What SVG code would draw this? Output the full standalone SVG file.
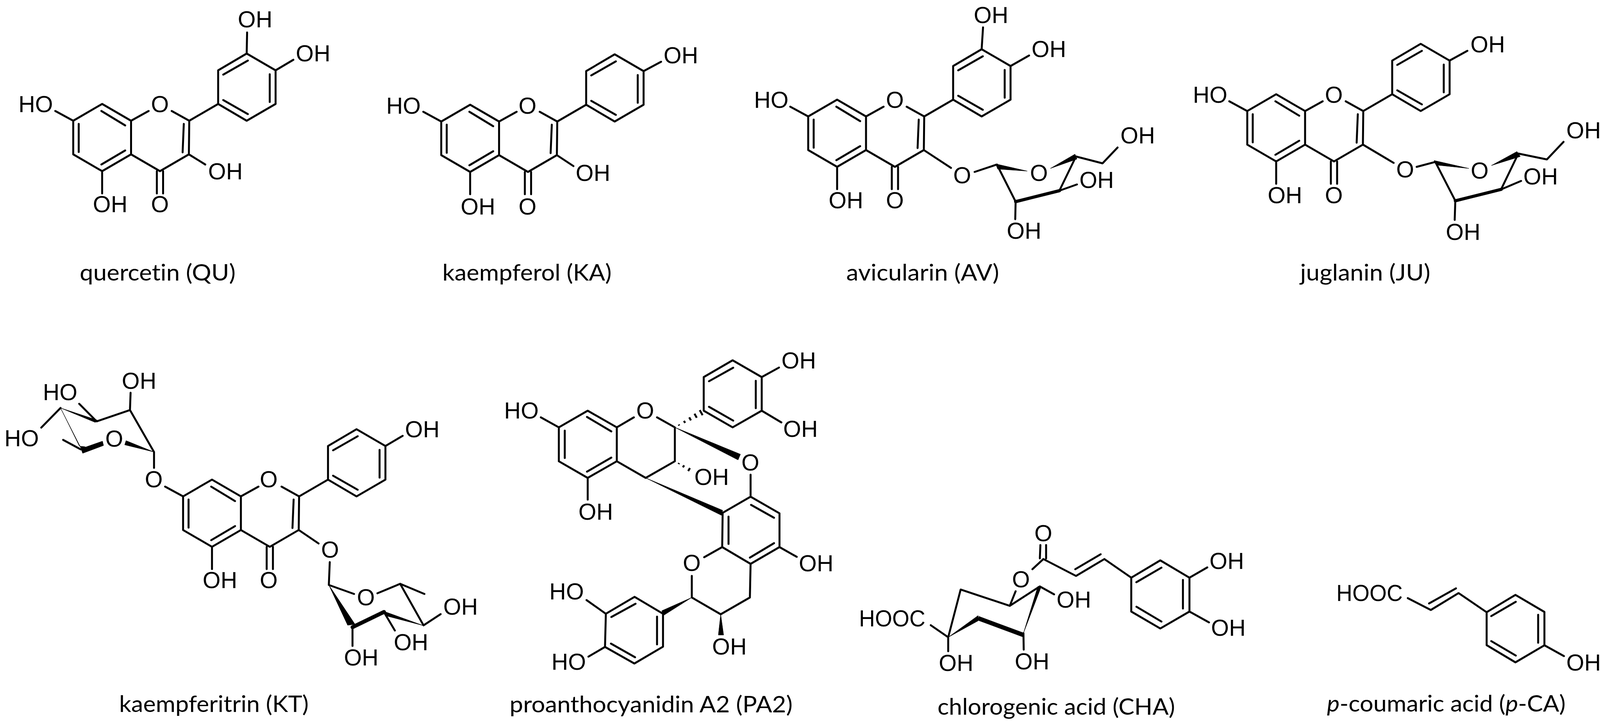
<svg xmlns="http://www.w3.org/2000/svg" width="4122" height="1863" viewBox="0 0 4122 1863">
<style>
.b{fill:none;stroke:#000;stroke-width:5;stroke-linecap:round;stroke-linejoin:round}
.t{fill:none;stroke:#000;stroke-width:8;stroke-linecap:round;stroke-linejoin:round}
.w{fill:#000;stroke:#000;stroke-width:1;stroke-linejoin:round}
.a{font-family:"Liberation Sans",Arial,sans-serif;font-size:59px;fill:#000;text-anchor:middle}
.s{text-anchor:start}
.c{font-family:Lato,"Open Sans",sans-serif;font-size:58px;fill:#000;font-variant-ligatures:none}
.i{font-style:italic}
</style>
<defs>
<path id="core" class="b" d="M0,0 L74,-43 L148,0 L148,86 L74,129 L0,86 Z M148,0 L193,-25 M252,-25 L297,0 L296,86 L222,129 L148,86 M14,8 V80 M72,-25 L133,12 M72,112 L133,76 M283,8 L280,81 M214,129 V186 M230,129 V186 M74,129 V186 M0,0 L-46,-25 M297,0 L371,-43 V-129 L444,-172 L518,-129 V-43 L444,0 L371,-43 M384,-118 L447,-154 M503,-119 V-48 M384,-53 L447,-17"/>
</defs>
<rect width="4122" height="1863" fill="#fff"/>

<g id="quercetin">
<use href="#core" x="187.5" y="309"/>
<path class="b" d="M631.5,137 L632.6,83 M705.5,180 L751,153 M483.5,395 L525.5,421"/>
<text class="a" x="91.5" y="287">HO</text><text class="a" x="409.4" y="287">O</text><text class="a" x="653" y="70.4">OH</text><text class="a" x="801.5" y="156.6">OH</text><text class="a" x="577" y="459">OH</text><text class="a" x="282" y="543.4">OH</text><text class="a" x="409.4" y="543.4">O</text>
<text class="c" x="204" y="718" textLength="399" lengthAdjust="spacingAndGlyphs">quercetin (QU)</text>
</g>

<g id="kaempferol">
<use href="#core" x="1129.6" y="311"/>
<path class="b" d="M1647.6,182 L1692.4,158 M1425.6,397 L1468,425"/>
<text class="a" x="1033" y="291">HO</text><text class="a" x="1350.5" y="291">O</text><text class="a" x="1743" y="162">OH</text><text class="a" x="1518" y="463">OH</text><text class="a" x="1223.5" y="548.5">OH</text><text class="a" x="1350.5" y="548.5">O</text>
<text class="c" x="1132.6" y="718" textLength="433" lengthAdjust="spacingAndGlyphs">kaempferol (KA)</text>
</g>

<g id="avicularin">
<use href="#core" x="2069" y="298"/>
<path class="b" d="M2513,126 L2516.6,70 M2587,169 L2634.5,142 M2365,384 L2434.5,429.6 M2495,440 L2552,421 L2600,516 M2712,488 L2754.5,400.5 L2822.5,418 L2861,377.5 M2712,488 L2757,472 M2600,516 L2599,561"/>
<path class="t" d="M2600,516 L2712,488"/>
<polygon class="w" points="2549,419.4 2554,432.6 2629.6,437.8"/>
<polygon class="w" points="2689,431 2752,394.5 2757,407"/>
<text class="a" x="1974.5" y="275.5">HO</text><text class="a" x="2291" y="275.5">O</text><text class="a" x="2537" y="58.7">OH</text><text class="a" x="2685" y="146.4">OH</text><text class="a" x="2165.5" y="533">OH</text><text class="a" x="2291" y="533">O</text><text class="a" x="2463.3" y="469.4">O</text><text class="a" x="2659.7" y="463.3">O</text><text class="a" x="2912.6" y="367.3">OH</text><text class="a" x="2807.4" y="480.6">OH</text><text class="a" x="2621.5" y="611">OH</text>
<text class="c" x="2166.6" y="718" textLength="391" lengthAdjust="spacingAndGlyphs">avicularin (AV)</text>
</g>

<g id="juglanin">
<use href="#core" x="3193" y="284.2"/>
<path class="b" d="M3711,155 L3756.5,130 M3489,370 L3567.8,416.8 M3626.7,427 L3674.4,414.3 L3725.6,513.8 M3842.8,484.7 L3887,393 L3960,408 L4002.7,363 M3842.8,484.7 L3894,463 M3725.6,513.8 L3724,562.8"/>
<path class="t" d="M3725.6,513.8 L3842.8,484.7"/>
<polygon class="w" points="3671,410.7 3678,422.4 3760,431"/>
<polygon class="w" points="3818,423.5 3883.4,387.8 3892,400.5"/>
<text class="a" x="3098" y="262.8">HO</text><text class="a" x="3414.8" y="262.8">O</text><text class="a" x="3808.5" y="133.7">OH</text><text class="a" x="3289.4" y="520.4">OH</text><text class="a" x="3414.8" y="520.4">O</text><text class="a" x="3597.2" y="454">O</text><text class="a" x="3788" y="456.6">O</text><text class="a" x="4054" y="353.6">OH</text><text class="a" x="3944" y="472">OH</text><text class="a" x="3745.6" y="613.8">OH</text>
<text class="c" x="3328.6" y="718" textLength="333" lengthAdjust="spacingAndGlyphs">juglanin (JU)</text>
</g>

<g id="kaempferitrin">
<use href="#core" x="468.7" y="1270.3"/>
<path class="b" d="M986.7,1141.3 L1030.8,1115.3 M764.7,1356.3 L815.5,1390.8 M394.3,1197.3 V1156.7 L332.7,1049.3 L247.3,1078.3 L202.7,1033.3 M155,1044 L105.7,1094.3 M332.7,1049.3 L334.3,1005 M206.7,1150 L161.7,1125.7"/>
<polygon class="w" points="155,1044 248.5,1075 244,1081"/>
<polygon class="w" points="155,1044 203.3,1141.7 218.3,1143.3 212,1156"/>
<polygon class="w" points="207.3,1148.3 211.7,1160 265,1140 262.3,1129"/>
<polygon class="w" points="322.7,1127.7 319.3,1138.3 394.3,1156.7"/>
<path class="b" d="M844.2,1438.5 L841.8,1497 L906.4,1520 M966.2,1518.3 L1024.4,1494 L1086.5,1520 M1024.4,1494 L1084.2,1600.3 L1128,1571.6 M902.4,1609 V1653 M986,1571.6 L1010.8,1613.5"/>
<polygon class="w" points="1084.2,1601 978.9,1563 988.5,1576"/>
<polygon class="w" points="841.8,1497 890,1600 908.8,1597.5"/>
<path class="t" style="stroke-width:10" d="M983,1566 L902.4,1605"/>
<text class="a" x="1081" y="1119.3">OH</text><text class="a" x="688" y="1247">O</text><text class="a" x="393.8" y="1247">O</text><text class="a" x="563" y="1504.5">OH</text><text class="a" x="688" y="1504.5">O</text><text class="a" x="55.5" y="1142.3">HO</text><text class="a" x="154" y="1024">HO</text><text class="a" x="356" y="995">OH</text><text class="a" x="292.5" y="1143.3">O</text><text class="a" x="845" y="1427">O</text><text class="a" x="936.7" y="1548.7">O</text><text class="a" x="1179" y="1573">OH</text><text class="a" x="924.7" y="1702.5">OH</text><text class="a" x="1052.2" y="1663.5">OH</text>
<text class="c" x="305" y="1821.7" textLength="485" lengthAdjust="spacingAndGlyphs">kaempferitrin (KT)</text>
</g>

<g id="proanthocyanidin-a2">
<path class="b" d="M1504.5,1051 L1430.6,1093.6 V1180.4 L1504.5,1223 L1579,1180.4 V1093.6 Z M1579,1093.6 L1622.7,1068 M1682,1068 L1727.6,1093.6 V1180.4 L1653,1223 L1579,1180.4 M1445.8,1102 V1172 M1502.7,1067 L1565,1104 M1502.7,1207 L1565,1171 M1430.6,1093.6 L1384.5,1068 M1504.5,1223 V1278.6"/>
<path class="b" d="M1801.5,1051 V965 L1875.5,922 L1950,965 V1051 L1875.5,1093.6 Z M1815,975.6 L1877,941 M1934.8,974.4 V1044.5 M1815,1041 L1877,1076.4 M1950,965 L1994.2,940.6 M1950,1051 L2000.3,1081"/>
<path class="b" style="stroke-linecap:butt" d="M1737.5,1086.4 L1738.9,1089 M1750.9,1077.1 L1753.9,1082.3 M1764.4,1067.9 L1768.8,1075.7 M1777.9,1058.7 L1783.7,1069.1 M1791.3,1049.5 L1798.7,1062.5 M1738.5,1185 L1737,1187.6 M1751.3,1190.8 L1748.3,1196 M1766.3,1197.7 L1761.7,1205.5"/>
<polygon class="w" points="1727.6,1093.6 1895.5,1162.5 1889.4,1177"/>
<polygon class="w" points="1653,1223 1850,1306 1847,1318.8"/>
<path class="b" d="M1921.5,1214.8 V1271 M1850,1312.4 L1921.5,1271 L1995.5,1313.7 V1400 L1921.5,1443 L1848.8,1400 Z M1865,1322 V1392 M1922.7,1292 L1981.5,1325 M1919.7,1427 L1981.5,1390 M1848.8,1400 L1802.7,1426 M1771,1473.7 V1529 L1845,1572 L1919.7,1529 L1921.5,1443 M1995.5,1400 L2039.7,1425"/>
<polygon class="w" points="1845,1572 1839,1625 1852.4,1625"/>
<polygon class="w" points="1771,1529 1694.2,1563 1698.5,1575"/>
<path class="b" d="M1697.3,1570.7 V1654.8 L1624,1698 L1548.8,1655.5 L1551,1570.7 L1624.5,1527.3 Z M1682,1578 V1649 M1565,1579 L1627,1545 M1564,1647 L1625.8,1682 M1551,1570.7 L1501.5,1535.6 M1548.8,1655.5 L1506.4,1680.4"/>
<text class="a" x="1334.8" y="1071.3">HO</text><text class="a" x="1651.8" y="1071.3">O</text><text class="a" x="2044.8" y="942.5">OH</text><text class="a" x="2049.3" y="1118">OH</text><text class="a" x="1921" y="1204">O</text><text class="a" x="1821.8" y="1241">OH</text><text class="a" x="1525" y="1329.6">OH</text><text class="a" x="2089.3" y="1462">OH</text><text class="a" x="1771" y="1461">O</text><text class="a" x="1867.3" y="1674.6">OH</text><text class="a" x="1450.6" y="1533.7">HO</text><text class="a" x="1456" y="1714">HO</text>
<text class="c" x="1304.5" y="1822.6" textLength="724.5" lengthAdjust="spacingAndGlyphs">proanthocyanidin A2 (PA2)</text>
</g>

<g id="chlorogenic-acid">
<path class="b" d="M2896,1478.3 V1565 L2970.3,1608.3 L3045,1565 V1478.3 L2970.3,1434 Z M2909,1490 L2973.3,1452.7 M3028.3,1484 V1557.3 M2909.3,1552.7 L2973.3,1590.7 M3045,1478.3 L3090.7,1452 M3045,1565 L3095,1592.7 M2827.3,1430.7 L2896,1478.3 M2671,1430.6 L2754.6,1473.9 L2827.3,1430.6 M2752.7,1456.7 L2817.7,1418.4 M2662,1429 L2663.4,1394.7 M2678,1429 V1394.7 M2671,1430.6 L2643,1456.7 M2600,1513 L2585,1550.4 L2459.3,1508.7 L2427.4,1630.8 M2585,1550.4 L2662,1500.7 L2698.5,1521 M2620,1620.4 L2620.7,1662.5 M2427.4,1630.8 V1666.4 M2382.8,1600 L2427.4,1630.8"/>
<polygon class="w" points="2427.4,1630.8 2504,1575.3 2504,1588.7"/>
<path class="t" style="stroke-width:11;stroke-linecap:butt" d="M2504,1582 L2620,1625"/>
<polygon class="w" points="2620,1620.4 2657,1500.7 2665.3,1502"/>
<text class="a" x="2671" y="1384.7">O</text><text class="a" x="2613.6" y="1502.6">O</text><text class="a" x="3140.5" y="1456">OH</text><text class="a" x="3144.5" y="1627">OH</text><text class="a" x="2749" y="1555">OH</text><text class="a" x="2642" y="1713">OH</text><text class="a" x="2447.5" y="1717">OH</text><text class="a s" x="2199" y="1603" textLength="170" lengthAdjust="spacingAndGlyphs">HOOC</text>
<text class="c" x="2400" y="1828.6" textLength="608" lengthAdjust="spacingAndGlyphs">chlorogenic acid (CHA)</text>
</g>

<g id="p-coumaric-acid">
<path class="b" d="M3604,1530.7 L3662.9,1561 L3734,1517.7 L3805.8,1566.7 V1651 L3879.5,1695 L3953.7,1651.3 V1566 L3879.5,1522.3 L3805.8,1566.7 M3658.4,1544.3 L3727.2,1505.7 M3817.6,1576.7 L3880.4,1540 M3937.7,1573.3 V1644.7 M3817.6,1640.7 L3880.4,1677.7 M3953.7,1651.3 L4003.7,1679"/>
<text class="a s" x="3421" y="1538" textLength="170" lengthAdjust="spacingAndGlyphs">HOOC</text><text class="a" x="4054" y="1716">OH</text>
<text class="c" x="3397" y="1821" textLength="611" lengthAdjust="spacingAndGlyphs"><tspan class="i">p</tspan>-coumaric acid (<tspan class="i">p</tspan>-CA)</text>
</g>
</svg>
